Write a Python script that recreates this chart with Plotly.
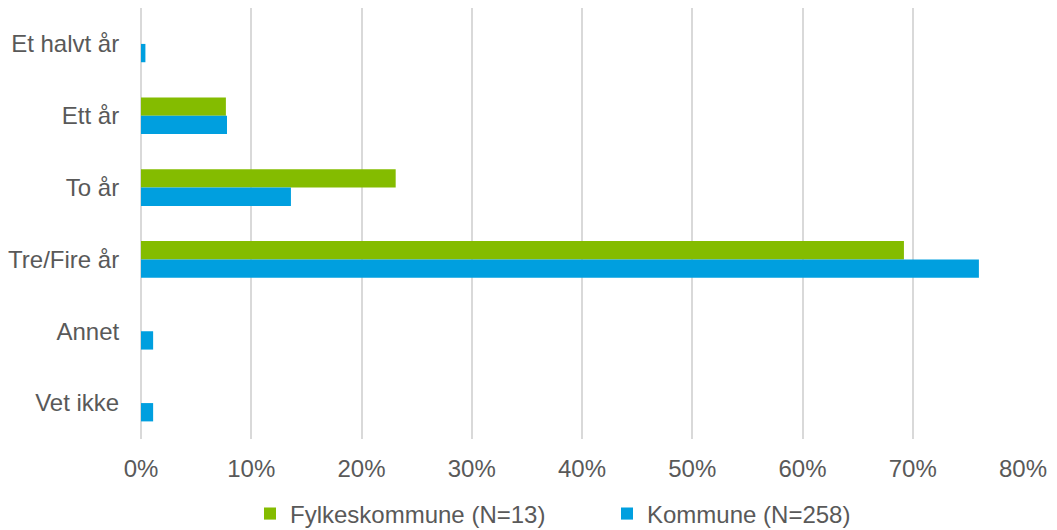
import plotly.graph_objects as go

categories = ["Et halvt år", "Ett år", "To år", "Tre/Fire år", "Annet", "Vet ikke"]
fylke_vals = [0, 7.7, 23.1, 69.2, 0, 0]
kommune_vals = [0.4, 7.8, 13.6, 76.0, 1.1, 1.1]
series_names = ["Fylkeskommune (N=13)", "Kommune (N=258)"]
tick_vals = [0, 10, 20, 30, 40, 50, 60, 70, 80]
tick_text = ["0%", "10%", "20%", "30%", "40%", "50%", "60%", "70%", "80%"]

green = "#84BC00"
blue = "#009FDF"
txt = "#595959"

W, H = 1049, 522

fig = go.Figure()
fig.add_trace(go.Bar(y=categories, x=fylke_vals, name=series_names[0],
                     orientation="h", marker=dict(color=green, line=dict(width=0))))
fig.add_trace(go.Bar(y=categories, x=kommune_vals, name=series_names[1],
                     orientation="h", marker=dict(color=blue, line=dict(width=0))))

fig.update_layout(
    width=W, height=H,
    margin=dict(l=133, r=34, t=0, b=91, autoexpand=False),
    paper_bgcolor="white", plot_bgcolor="white",
    barmode="group", bargap=0.49, bargroupgap=0,
    font=dict(family="Liberation Sans, Arial, sans-serif", size=24, color=txt),
    xaxis=dict(range=[0, 80], tickvals=tick_vals, ticktext=tick_text,
               showgrid=True, gridcolor="#D9D9D9", gridwidth=2,
               zeroline=True, zerolinecolor="#D9D9D9", zerolinewidth=2,
               ticks="outside", ticklen=8, tickcolor="rgba(0,0,0,0)",
               showline=False, fixedrange=True, automargin=False),
    yaxis=dict(autorange="reversed", ticks="outside", ticklen=16,
               tickcolor="rgba(0,0,0,0)", showgrid=False, showline=False,
               automargin=False),
    legend=dict(orientation="h", x=242 / W, xanchor="left", xref="container",
                y=16 / H, yanchor="middle", yref="container",
                entrywidth=312, entrywidthmode="pixels",
                font=dict(size=24, color=txt), itemwidth=30, traceorder="normal"),
    showlegend=True,
)

fig.write_html("out.html")
